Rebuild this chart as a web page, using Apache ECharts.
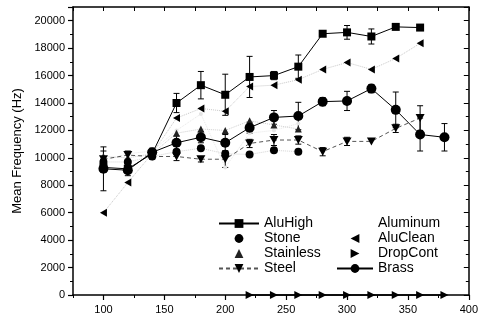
<!DOCTYPE html>
<html>
<head>
<meta charset="utf-8">
<script src="https://cdn.jsdelivr.net/npm/echarts@6/dist/echarts.min.js"></script>
<style>
  html, body { margin: 0; padding: 0; background: #fff; }
  #chartBox { width: 481px; height: 322px; }
</style>
</head>
<body>
<div id="chartBox"></div>
<script>
// speed values on the x axis
const xValues = [100, 120, 140, 160, 180, 200, 220, 240, 260, 280, 300, 320, 340, 360, 380];

const aluHigh = [9300, 9200, 10300, 14000, 15300, 14600, 15900, 16000, 16650, 19050, 19150, 18850, 19550, 19500, null];
const aluHighErr = [300, 200, 300, 700, 1000, 1500, 1500, 300, 850, 0, 500, 550, 0, 0, 0];
const stone = [9700, 9700, 10100, 10450, 10700, 10300, 10250, 10550, 10450, null, null, null, null, null, null];
const stainless = [10100, 10000, 10300, 11800, 12100, 12000, 12700, 12400, 12100, null, null, null, null, null, null];
const steel = [9900, 10200, 10100, 10100, 9900, 9900, 11050, 11300, 11300, 10450, 11200, 11200, 12150, 12900, null];
const steelErr = [600, 300, 200, 300, 200, 600, 300, 400, 300, 300, 300, 0, 300, 900, 0];
const aluminum = [9800, 10300, 10500, 12000, 13200, 9300, 11800, 12000, 12500, null, null, null, null, null, null];
const aluClean = [6000, 8200, 10300, 12900, 13600, 13400, 15200, 15300, 15700, 16450, 16950, 16450, 17250, 18350, null];
const dropCont = [null, null, null, null, null, null, 0, 0, 0, 0, 0, 0, 0, 0, 0];
const brass = [9200, 9100, 10400, 11100, 11500, 11100, 12200, 12950, 13050, 14100, 14150, 15050, 13500, 11700, 11500];
const brassErr = [1600, 400, 300, 500, 400, 600, 400, 500, 1000, 300, 700, 300, 1300, 1200, 1000];

const xLabels = [100, 150, 200, 250, 300, 350, 400];

const chartDom = document.getElementById('chartBox');
const myChart = echarts.init(chartDom, null, { renderer: 'canvas' });

const triDown = 'path://M0,0 L10,0 L5,9 Z';
const triLeft = 'path://M9,0 L0,5 L9,10 Z';
const triRight = 'path://M0,0 L9,5 L0,10 Z';

function pairs(vals) {
  return xValues.map(function (x, i) { return [x, vals[i]]; });
}

function errBars(vals, errs) {
  const rows = [];
  xValues.forEach(function (x, i) {
    if (vals[i] != null && errs[i] > 0) rows.push([x, vals[i], errs[i]]);
  });
  return {
    type: 'custom',
    silent: true,
    z: 1,
    xAxisIndex: 0,
    yAxisIndex: 0,
    encode: { x: 0, y: 1 },
    renderItem: function (params, api) {
      const x = api.value(0), y = api.value(1), e = api.value(2);
      const hi = api.coord([x, y + e]);
      const lo = api.coord([x, y - e]);
      const w = 3;
      const st = { stroke: '#000', lineWidth: 1 };
      return {
        type: 'group',
        children: [
          { type: 'line', shape: { x1: hi[0], y1: hi[1], x2: lo[0], y2: lo[1] }, style: st },
          { type: 'line', shape: { x1: hi[0] - w, y1: hi[1], x2: hi[0] + w, y2: hi[1] }, style: st },
          { type: 'line', shape: { x1: lo[0] - w, y1: lo[1], x2: lo[0] + w, y2: lo[1] }, style: st }
        ]
      };
    },
    data: rows
  };
}

const axisFont = { fontFamily: 'Liberation Sans', fontSize: 11, color: '#000' };
const noLine = { lineStyle: { width: 0, opacity: 0 } };

const option = {
  backgroundColor: '#fff',
  animation: false,
  textStyle: { fontFamily: 'Liberation Sans' },
  grid: { left: 73, right: 8, top: 7, bottom: 27, containLabel: false },
  xAxis: [
    {
      type: 'value', position: 'bottom', min: 75, max: 400, interval: 25,
      axisLine: { lineStyle: { color: '#000', width: 1.5 } },
      axisTick: { show: true, length: 3, lineStyle: { color: '#000' } },
      axisLabel: { show: false },
      splitLine: { show: false }
    },
    {
      type: 'value', position: 'bottom', min: 75, max: 400,
      axisLine: { show: false },
      axisTick: { show: true, length: 5, customValues: xLabels, lineStyle: { color: '#000', width: 1.2 } },
      axisLabel: Object.assign({ customValues: xLabels, margin: 9 }, axisFont),
      splitLine: { show: false }
    },
    {
      type: 'value', position: 'top', min: 75, max: 400, interval: 25,
      axisLine: { lineStyle: { color: '#000', width: 1.5 } },
      axisTick: { show: true, inside: true, length: 4, lineStyle: { color: '#000' } },
      axisLabel: { show: false },
      splitLine: { show: false }
    }
  ],
  yAxis: [
    {
      type: 'value', position: 'left', min: 0, max: 21000, interval: 2000,
      name: 'Mean Frequency (Hz)', nameLocation: 'middle', nameGap: 44, nameRotate: 90,
      nameTextStyle: { fontFamily: 'Liberation Sans', fontSize: 13, color: '#000' },
      axisLine: { lineStyle: { color: '#000', width: 1.5 } },
      axisTick: { show: true, length: 5, lineStyle: { color: '#000', width: 1.2 } },
      minorTick: { show: true, splitNumber: 2, length: 3, lineStyle: { color: '#000' } },
      axisLabel: Object.assign({ margin: 8, showMaxLabel: false, formatter: function (v) { return String(v); } }, axisFont),
      splitLine: { show: false }
    },
    {
      type: 'value', position: 'right', min: 0, max: 21000, interval: 2000,
      axisLine: { lineStyle: { color: '#000', width: 1.5 } },
      axisTick: { show: true, inside: true, length: 5, lineStyle: { color: '#000' } },
      minorTick: { show: true, splitNumber: 2, length: 3, lineStyle: { color: '#000' } },
      axisLabel: { show: false },
      splitLine: { show: false }
    }
  ],
  legend: [
    {
      orient: 'vertical', left: 213, top: 211,
      itemWidth: 40, itemHeight: 11, itemGap: 0,
      textStyle: { fontFamily: 'Liberation Sans', fontSize: 14, color: '#000', lineHeight: 15 },
      data: [
        'AluHigh',
        Object.assign({ name: 'Stone' }, noLine),
        Object.assign({ name: 'Stainless' }, noLine),
        'Steel'
      ]
    },
    {
      orient: 'vertical', left: 331, top: 211,
      itemWidth: 36, itemHeight: 11, itemGap: 0,
      textStyle: { fontFamily: 'Liberation Sans', fontSize: 14, color: '#000', lineHeight: 15 },
      data: [
        { name: 'Aluminum', lineStyle: { width: 0, opacity: 0 }, itemStyle: { opacity: 0 } },
        Object.assign({ name: 'AluClean' }, noLine),
        Object.assign({ name: 'DropCont' }, noLine),
        'Brass'
      ]
    }
  ],
  series: [
    errBars(aluHigh, aluHighErr),
    errBars(brass, brassErr),
    errBars(steel, steelErr),
    {
      name: 'Aluminum', type: 'line', data: pairs(aluminum),
      symbol: 'circle', symbolSize: 4,
      itemStyle: { color: '#e4e4e4' },
      lineStyle: { color: '#e8e8e8', width: 1, type: 'dotted' }
    },
    {
      name: 'Stainless', type: 'line', data: pairs(stainless),
      symbol: 'triangle', symbolSize: 7,
      itemStyle: { color: '#222' },
      lineStyle: { color: '#cfcfcf', width: 1, type: 'dotted' }
    },
    {
      name: 'Stone', type: 'line', data: pairs(stone),
      symbol: 'circle', symbolSize: 8,
      itemStyle: { color: '#000' },
      lineStyle: { color: '#d4d4d4', width: 1, type: 'dotted' }
    },
    {
      name: 'AluClean', type: 'line', data: pairs(aluClean),
      symbol: triLeft, symbolSize: [7, 8],
      itemStyle: { color: '#000' },
      lineStyle: { color: '#c8c8c8', width: 1, type: 'dotted' }
    },
    {
      name: 'Steel', type: 'line', data: pairs(steel),
      symbol: triDown, symbolSize: [9, 8],
      itemStyle: { color: '#000' },
      lineStyle: { color: '#555', width: 1, type: [4, 3] }
    },
    {
      name: 'DropCont', type: 'line', data: pairs(dropCont),
      symbol: triRight, symbolSize: [8, 8],
      itemStyle: { color: '#000' },
      lineStyle: { color: '#000', width: 1.5 },
      clip: false
    },
    {
      name: 'Brass', type: 'line', data: pairs(brass),
      symbol: 'circle', symbolSize: 10,
      itemStyle: { color: '#000' },
      lineStyle: { color: '#000', width: 1 }
    },
    {
      name: 'AluHigh', type: 'line', data: pairs(aluHigh),
      symbol: 'rect', symbolSize: 8,
      itemStyle: { color: '#000' },
      lineStyle: { color: '#000', width: 1 }
    }
  ]
};

option && myChart.setOption(option);
</script>
</body>
</html>
